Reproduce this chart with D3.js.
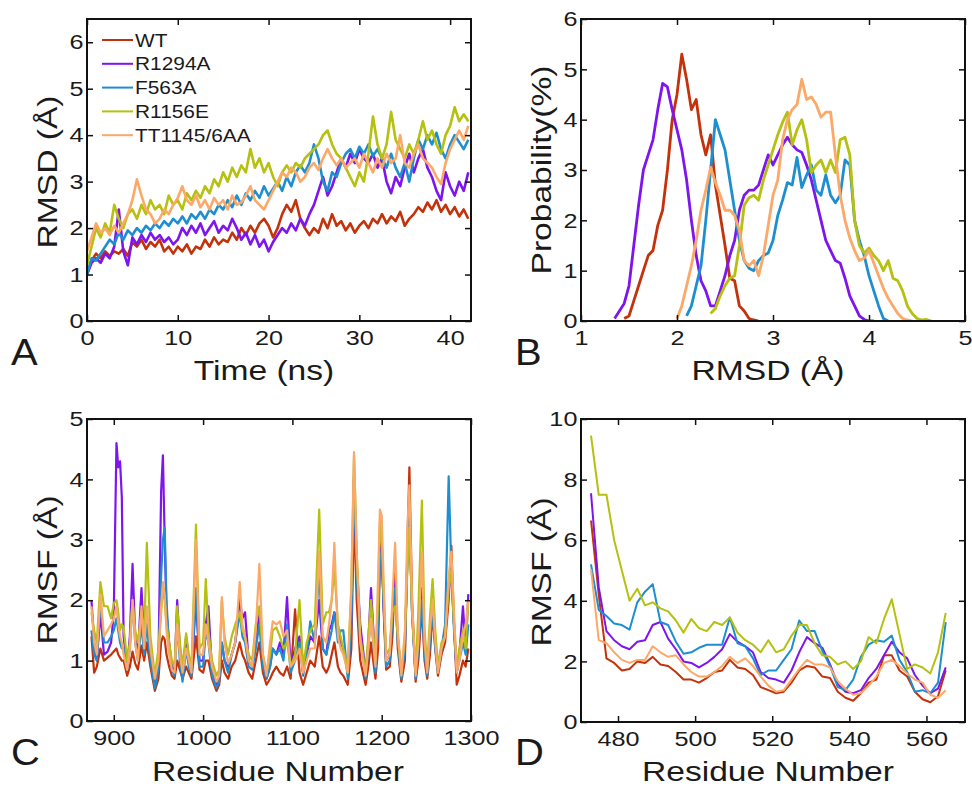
<!DOCTYPE html>
<html>
<head>
<meta charset="utf-8">
<script src="https://cdn.jsdelivr.net/npm/d3@7"></script>
<style>
  body { margin: 0; background: #fff; }
  svg text { font-family: "Liberation Sans", Arial, sans-serif; fill: #1a1a1a; }
</style>
</head>
<body>
<div id="chart"></div>
<script>
// Four-panel MD summary: RMSD vs time, RMSD histogram, RMSF (two domains)

const seriesNames = ['WT', 'R1294A', 'F563A', 'R1156E', 'TT1145/6AA'];
const seriesColors = ['#c3320a', '#7e15ee', '#1d8fd1', '#b5c00f', '#fba868'];

// --- Panel A: RMSD (Å) vs time, one sample every 0.5 ns from 0 to 42 ns
const timeStepA = 0.5;
const rmsdA_WT = [1.0,1.3,1.45,1.35,1.5,1.4,1.5,1.45,1.55,1.4,1.7,1.6,1.75,1.55,1.7,1.6,1.75,1.5,1.6,1.45,1.6,1.5,1.65,1.45,1.6,1.55,1.75,1.6,1.8,1.65,1.75,1.7,1.9,1.75,2.0,1.85,2.05,1.9,2.1,2.2,2.05,1.8,2.0,2.3,2.5,2.35,2.6,2.2,2.0,1.85,2.0,1.9,2.2,2.0,2.3,2.05,2.15,1.95,2.1,1.9,2.05,2.15,2.0,2.2,2.1,2.3,2.1,2.25,2.15,2.35,2.05,2.2,2.3,2.45,2.35,2.55,2.4,2.6,2.35,2.5,2.3,2.45,2.25,2.4,2.2];
const rmsdA_R1294A = [1.0,1.25,1.35,1.25,1.45,1.35,1.6,2.4,1.5,1.2,1.8,1.65,1.85,1.7,1.9,1.75,1.85,1.7,1.8,1.65,1.75,2.0,1.85,2.05,1.9,2.1,1.85,2.0,2.15,1.9,2.05,1.95,2.2,2.0,1.75,1.9,1.65,1.85,1.6,1.75,1.5,1.7,1.85,2.0,1.9,2.1,1.95,2.2,2.05,2.3,2.5,2.8,3.1,2.7,2.9,3.2,3.5,3.3,3.6,3.4,3.7,3.5,3.4,3.6,3.3,3.5,3.0,2.75,3.1,2.9,3.3,3.6,3.2,3.5,3.7,3.3,3.1,2.8,2.6,3.2,2.9,2.7,3.0,2.8,3.2];
const rmsdA_F563A = [1.0,1.35,1.3,1.45,1.6,1.75,1.65,1.9,1.75,1.95,1.85,2.0,1.9,2.05,1.95,2.1,2.0,2.15,2.05,2.2,2.1,2.25,2.1,2.3,2.2,2.35,2.2,2.4,2.3,2.5,2.4,2.6,2.45,2.7,2.5,2.75,2.6,2.8,2.65,2.9,2.7,2.85,3.0,2.8,3.1,2.9,3.2,3.35,3.2,3.4,3.8,3.5,3.0,2.8,3.2,3.1,3.4,3.6,3.7,3.5,3.75,3.6,3.8,3.55,3.7,3.5,3.3,3.6,3.3,3.1,3.4,3.0,3.5,3.9,3.7,4.0,3.8,4.05,3.7,3.5,3.8,4.0,3.85,3.7,3.9];
const rmsdA_R1156E = [1.2,1.6,2.0,1.8,2.1,1.9,2.5,2.2,2.0,2.3,2.4,2.2,2.5,2.3,2.6,2.4,2.5,2.3,2.7,2.5,2.6,2.4,2.75,2.6,2.8,2.65,2.9,2.75,3.05,2.9,3.2,3.0,3.3,3.1,3.35,3.2,3.7,3.3,3.5,3.2,3.4,3.1,2.9,3.2,3.35,3.2,3.4,3.3,3.5,3.6,3.7,3.8,4.0,4.1,3.8,3.6,3.5,3.3,3.1,2.9,3.2,3.0,3.6,4.4,3.8,3.5,3.8,4.5,3.9,3.7,3.5,3.8,3.6,3.9,4.3,3.9,4.1,3.8,3.6,4.0,4.2,4.6,4.3,4.45,4.3];
const rmsdA_TT = [1.5,1.8,2.1,1.9,2.0,1.85,2.05,1.9,2.1,2.3,2.6,3.05,2.7,2.4,2.3,2.1,2.2,2.4,2.3,2.5,2.65,2.9,2.6,2.5,2.7,2.45,2.6,2.4,2.65,2.5,2.6,2.4,2.7,2.5,2.55,2.7,2.9,2.6,2.5,2.4,2.6,2.8,3.0,3.2,3.1,3.3,3.2,3.0,3.1,3.3,3.4,3.25,3.5,3.7,3.5,3.35,3.5,3.3,3.4,3.5,3.3,3.6,3.4,3.2,3.5,3.3,3.6,3.4,3.5,4.0,3.4,3.3,3.6,3.8,3.5,3.4,3.3,3.1,2.95,3.4,3.7,3.9,4.1,3.9,4.2];

// --- Panel B: RMSD probability (%), bins of 0.05 Å starting at each series' first bin
const binStepB = 0.05;
const binStartB = [1.45, 1.35, 2.1, 2.35, 2.0];
const probB_WT = [0.05,0.1,0.4,0.7,1.0,1.3,1.4,1.9,2.2,3.0,4.0,4.5,5.3,4.8,4.2,4.4,3.7,3.3,3.7,2.7,2.1,1.5,0.85,0.8,0.3,0.2,0.05,0.02,0];
const probB_R1294A = [0.05,0.2,0.35,0.7,1.5,2.3,3.0,3.3,3.6,4.2,4.72,4.65,4.2,3.8,3.4,2.8,2.0,1.3,0.8,0.6,0.3,0.3,0.6,0.9,1.3,1.6,2.2,2.5,2.6,2.6,2.7,3.0,3.3,3.1,3.3,3.5,3.65,3.5,3.4,3.35,3.1,2.8,2.4,2.0,1.6,1.4,1.2,1.15,0.85,0.5,0.3,0.1,0.03,0,0];
const probB_F563A = [0.1,0.3,0.7,1.1,2.0,3.0,4.0,3.7,3.4,2.8,2.2,1.6,1.2,1.05,1.0,1.2,1.3,1.35,1.6,2.1,2.4,2.75,2.7,3.25,2.65,2.9,3.1,2.6,2.5,2.9,2.5,2.35,2.5,3.2,3.1,2.0,1.6,1.3,0.9,0.6,0.3,0.05,0];
const probB_R1156E = [0.15,0.25,0.5,0.7,0.85,0.9,1.5,2.3,2.45,2.5,2.4,2.8,3.1,3.4,3.7,3.95,4.15,3.5,3.8,4.0,3.6,2.95,3.1,3.2,2.95,3.2,2.95,3.6,3.65,3.3,2.0,1.5,1.35,1.45,1.3,1.2,1.0,1.2,0.85,0.8,0.6,0.3,0.15,0.05,0.02,0.03,0];
const probB_TT = [0.05,0.3,0.7,1.1,1.6,2.2,2.6,3.05,2.75,2.5,2.2,2.2,2.1,1.8,1.2,1.1,1.2,0.9,1.3,1.9,2.5,2.8,3.6,4.0,4.2,4.3,4.8,4.4,4.45,4.3,4.05,4.15,4.15,3.3,2.5,2.0,1.65,1.4,1.2,1.25,1.4,1.15,0.9,0.65,0.45,0.3,0.15,0.05,0.02,0];

// --- Panel C: RMSF (Å) per residue, 875-1297
const residuesC = [875,878,881,885,889,893,897,900,903,905,907,909,911,915,918,921,924,927,931,934,937,941,946,950,953,955,957,959,962,965,968,971,974,977,981,984,987,992,996,1000,1003,1006,1010,1015,1018,1021,1024,1028,1032,1036,1041,1044,1047,1051,1055,1059,1063,1067,1071,1075,1078,1082,1086,1090,1094,1098,1103,1108,1112,1116,1120,1125,1130,1134,1138,1141,1144,1147,1151,1154,1157,1162,1166,1169,1172,1176,1179,1182,1185,1188,1193,1196,1198,1200,1202,1205,1209,1212,1215,1218,1222,1226,1229,1231,1234,1238,1241,1245,1248,1251,1254,1257,1260,1263,1267,1271,1275,1278,1281,1284,1287,1291,1294,1297];
const rmsfC_WT = [1.4,0.8,0.9,1.2,1.0,1.05,1.1,1.15,1.2,1.1,1.05,1.0,1.0,0.75,0.9,1.15,0.95,0.85,1.25,1.0,1.3,0.9,0.5,0.7,1.3,1.4,1.35,1.1,0.9,0.75,0.7,1.0,0.85,0.7,0.9,0.8,0.7,1.4,0.85,0.8,1.0,1.0,0.7,0.5,0.6,1.0,0.8,0.7,0.9,1.0,1.3,1.1,1.0,0.8,0.7,1.0,1.3,0.8,0.6,0.7,0.8,0.9,0.8,0.75,0.9,0.7,1.85,0.8,0.6,0.8,1.0,0.9,1.4,0.9,0.8,0.9,1.1,1.3,0.9,0.8,0.75,0.6,1.2,3.5,2.0,1.0,0.8,0.6,0.9,1.3,0.7,1.2,2.8,3.0,1.9,0.85,0.9,1.4,2.5,1.2,0.65,1.0,3.0,4.2,2.0,0.65,1.0,1.9,1.0,0.7,1.1,1.8,1.2,0.75,1.1,1.3,2.0,2.9,1.6,0.6,0.75,1.0,0.9,1.2];
const rmsfC_R1294A = [2.0,1.3,1.0,1.8,1.1,1.15,1.3,1.8,4.6,4.2,4.3,3.7,1.4,0.9,1.4,2.6,1.4,1.1,2.2,1.3,1.6,1.1,0.6,1.0,3.8,4.4,3.0,1.8,1.3,0.9,0.8,2.0,1.2,0.8,1.4,1.0,0.8,2.0,1.0,1.0,1.6,1.9,0.8,0.6,0.7,1.3,1.0,0.9,1.1,1.3,2.0,1.7,1.8,1.0,0.9,1.3,1.8,1.0,0.7,0.9,1.2,1.1,1.3,1.1,2.05,0.9,1.2,1.4,0.8,1.1,1.4,1.3,2.0,1.2,1.1,1.5,1.6,1.8,1.5,1.3,1.2,0.8,1.6,4.0,2.6,1.6,1.2,0.8,1.3,2.2,0.9,1.6,2.9,2.8,2.0,1.0,1.1,1.8,2.3,1.4,0.75,1.3,2.8,3.4,1.8,0.75,1.3,2.2,1.2,0.8,1.4,1.9,1.3,0.85,1.2,1.5,2.3,2.4,1.6,0.8,1.1,1.9,1.2,2.1];
const rmsfC_F563A = [1.5,1.1,1.0,2.0,1.3,1.3,1.4,1.5,1.7,1.5,1.3,1.2,1.2,0.85,1.2,2.0,1.3,1.0,1.6,1.1,1.6,1.0,0.55,0.85,2.4,3.0,3.2,2.0,1.2,0.85,0.75,1.6,1.0,0.65,1.2,0.9,0.75,2.2,0.9,0.9,1.5,1.3,0.75,0.55,0.65,1.3,1.0,0.8,1.1,1.3,1.8,1.4,1.3,0.9,0.85,1.2,1.6,0.9,0.7,0.9,1.2,1.1,1.2,1.0,1.6,0.8,1.0,1.3,0.75,1.1,1.65,1.3,2.5,1.2,1.1,1.3,1.5,1.8,1.3,1.5,1.5,0.7,1.6,4.1,2.4,1.3,1.1,0.7,1.2,1.8,0.8,1.6,2.7,2.8,2.0,0.9,1.0,1.7,2.2,1.3,0.7,1.2,2.8,3.4,1.8,0.7,1.2,2.0,1.1,0.75,1.3,1.8,1.2,0.8,1.2,1.6,4.05,2.5,1.5,0.8,1.0,1.3,1.1,1.6];
const rmsfC_R1156E = [1.8,1.5,1.3,2.3,1.9,1.9,1.7,1.95,2.0,1.8,1.5,1.6,1.55,1.0,1.3,2.0,1.5,1.3,1.8,1.4,2.95,1.4,0.75,1.2,1.8,2.2,2.0,1.6,1.3,1.0,0.9,1.9,1.3,0.9,1.45,1.1,0.9,3.25,1.2,1.3,2.35,1.5,1.0,0.75,0.85,2.0,1.4,1.1,1.4,1.6,1.8,1.5,1.4,1.1,1.0,1.6,1.9,1.1,0.8,1.1,1.5,1.55,1.4,1.2,1.3,0.9,1.1,2.0,0.9,1.3,1.5,1.6,3.5,1.6,1.8,1.8,2.0,2.5,1.6,1.4,1.2,0.9,2.2,4.4,2.8,1.4,1.1,0.8,1.4,2.0,1.0,2.0,3.3,3.0,2.2,1.1,1.2,1.8,1.9,1.4,0.8,1.4,2.6,3.2,1.8,0.8,1.8,3.65,1.5,0.9,1.7,2.35,1.5,0.9,1.3,1.4,2.2,2.5,1.6,0.9,1.2,1.5,1.2,2.0];
const rmsfC_TT = [1.9,1.3,1.1,2.1,1.4,1.5,1.6,1.7,1.9,1.6,1.4,1.3,1.1,0.85,1.2,2.0,1.3,1.0,1.9,1.2,1.9,1.2,0.7,1.0,1.9,2.3,2.1,1.5,1.1,0.85,0.8,1.6,1.1,0.8,1.2,1.0,0.8,3.0,1.1,1.1,1.6,1.3,0.9,0.65,0.75,2.05,1.3,0.95,1.1,1.3,2.3,1.6,1.4,1.0,0.9,1.5,2.6,1.1,0.75,1.3,1.65,1.6,1.65,1.4,1.5,0.9,1.0,1.2,0.8,1.0,1.2,1.2,2.8,1.4,1.3,1.6,2.0,2.95,1.4,1.2,1.1,0.8,2.2,4.45,2.8,1.3,1.0,0.75,1.2,1.7,0.9,2.4,3.5,3.4,2.4,1.0,1.1,2.0,2.95,1.5,0.75,1.5,3.3,3.9,2.0,0.75,1.3,2.8,1.3,0.8,1.5,2.0,1.3,0.8,1.2,1.4,2.4,2.8,1.8,0.8,1.0,1.4,1.6,2.0];

// --- Panel D: RMSF (Å) per residue, every second residue 473-565
const residuesD = d3.range(473, 566, 2);
const rmsfD_WT = [6.65,4.2,2.1,1.95,1.7,1.75,2.0,1.95,2.15,1.9,1.85,1.65,1.4,1.4,1.3,1.45,1.65,1.7,2.05,1.8,1.75,1.55,1.15,1.05,0.95,1.0,1.3,1.7,1.85,1.8,1.5,1.45,1.0,0.8,0.7,0.95,1.3,1.4,2.2,2.2,1.7,1.5,1.0,0.75,0.65,0.85,1.7];
const rmsfD_R1294A = [7.55,4.45,3.0,2.7,2.5,2.4,2.65,2.7,3.2,3.3,2.75,2.4,2.0,1.95,1.8,1.95,2.15,2.4,2.9,2.65,2.5,2.3,1.65,1.45,1.4,1.3,1.7,2.3,2.8,2.6,2.45,1.9,1.25,1.0,0.95,1.05,1.45,1.75,2.2,2.65,2.3,2.1,1.55,1.2,0.95,1.1,1.8];
const rmsfD_F563A = [5.2,3.7,3.5,3.25,3.2,3.05,3.95,4.3,4.55,3.3,3.2,2.65,2.25,2.3,2.45,2.55,2.55,2.55,3.45,2.6,2.5,2.1,1.55,1.7,1.7,2.05,2.4,3.35,3.0,3.0,2.35,1.85,1.15,1.05,1.4,2.15,2.55,2.7,2.65,2.85,2.05,1.65,1.0,1.05,0.95,1.3,3.3];
const rmsfD_R1156E = [9.45,7.5,7.5,6.0,5.0,4.0,4.4,3.85,3.95,3.75,3.65,3.35,2.95,3.4,3.1,3.0,3.3,3.2,3.45,2.95,2.7,2.55,2.3,2.7,2.3,2.4,2.85,3.2,3.2,2.6,2.2,2.15,1.9,2.0,1.75,2.0,2.8,2.6,3.4,4.05,2.9,1.75,1.9,1.8,1.6,2.3,3.6];
const rmsfD_TT = [5.05,2.7,2.6,2.3,2.05,1.95,2.05,2.05,2.5,2.3,2.15,2.2,1.9,1.65,1.5,1.5,1.65,1.85,2.15,1.95,2.1,1.85,1.5,1.2,1.0,1.05,1.4,1.75,2.05,1.9,1.9,1.8,1.35,1.1,0.9,0.95,1.2,1.5,1.95,2.05,1.85,1.6,1.4,1.3,0.9,0.8,1.05];

const W = 972, H = 789;
// the original lettering is wide: stretch text along its reading direction
const STRETCH = 1.2;

const svg = d3.select('#chart').append('svg')
  .attr('width', W).attr('height', H)
  .attr('viewBox', `0 0 ${W} ${H}`);
svg.append('rect').attr('width', W).attr('height', H).attr('fill', '#fff');

let clipId = 0;

function drawPanel(p) {
  const x = d3.scaleLinear().domain(p.xDomain).range([p.left, p.right]);
  const y = d3.scaleLinear().domain(p.yDomain).range([p.bottom, p.top]);
  const g = svg.append('g');

  const id = 'clip' + (clipId++);
  g.append('clipPath').attr('id', id).append('rect')
    .attr('x', p.left).attr('y', p.top)
    .attr('width', p.right - p.left).attr('height', p.bottom - p.top);

  const line = d3.line().x(d => x(d[0])).y(d => y(d[1]));
  const lines = g.append('g').attr('clip-path', `url(#${id})`);
  p.series.forEach((s, i) => {
    const pts = s.xs.map((xv, j) => [xv, s.ys[j]]).filter(d => d[1] != null);
    lines.append('path')
      .attr('d', line(pts))
      .attr('fill', 'none')
      .attr('stroke', seriesColors[i])
      .attr('stroke-width', p.lineWidth)
      .attr('stroke-linejoin', 'round');
  });

  // inward ticks on all four sides, matlab style
  const tk = 6;
  const styleAxis = sel => {
    sel.select('.domain').remove();
    sel.selectAll('.tick line').attr('stroke', '#111').attr('stroke-width', 1.5);
    sel.selectAll('text').attr('font-size', 21).attr('fill', '#1a1a1a')
      .attr('font-family', '"Liberation Sans", Arial, sans-serif')
      .attr('transform', `scale(${STRETCH},1)`);
  };
  g.append('g').attr('transform', `translate(0,${p.bottom})`)
    .call(d3.axisBottom(x).tickValues(p.xTicks).tickSize(-tk).tickPadding(9).tickFormat(d3.format('d')))
    .call(styleAxis);
  g.append('g').attr('transform', `translate(0,${p.top})`)
    .call(d3.axisTop(x).tickValues(p.xTicks).tickSize(-tk).tickFormat(''))
    .call(styleAxis);
  g.append('g').attr('transform', `translate(${p.left},0)`)
    .call(d3.axisLeft(y).tickValues(p.yTicks).tickSize(-tk).tickPadding(3).tickFormat(d3.format('d')))
    .call(styleAxis);
  g.append('g').attr('transform', `translate(${p.right},0)`)
    .call(d3.axisRight(y).tickValues(p.yTicks).tickSize(-tk).tickFormat(''))
    .call(styleAxis);

  g.append('rect')
    .attr('x', p.left).attr('y', p.top)
    .attr('width', p.right - p.left).attr('height', p.bottom - p.top)
    .attr('fill', 'none').attr('stroke', '#111').attr('stroke-width', 2);

  // axis titles and panel letter
  g.append('text')
    .attr('transform', `translate(${p.xLabelPos[0]},${p.xLabelPos[1]}) scale(${STRETCH},1)`)
    .attr('text-anchor', 'middle').attr('font-size', 28)
    .text(p.xLabel);
  g.append('text')
    .attr('transform', `translate(${p.yLabelPos[0]},${p.yLabelPos[1]}) rotate(-90) scale(${STRETCH},1)`)
    .attr('text-anchor', 'middle').attr('font-size', 28)
    .text(p.yLabel);
  g.append('text')
    .attr('transform', `translate(${p.letterPos[0]},${p.letterPos[1]}) scale(1.08,1)`)
    .attr('font-size', 37)
    .text(p.letter);
  return { x, y, g };
}

const timeA = rmsdA_WT.map((d, i) => i * timeStepA);
const panelA = drawPanel({
  left: 87, right: 471, top: 19, bottom: 321,
  xDomain: [0, 42.3], yDomain: [0, 6.5],
  xTicks: [0, 10, 20, 30, 40], yTicks: [0, 1, 2, 3, 4, 5, 6],
  lineWidth: 2.6,
  series: [rmsdA_WT, rmsdA_R1294A, rmsdA_F563A, rmsdA_R1156E, rmsdA_TT].map(ys => ({ xs: timeA, ys })),
  xLabel: 'Time (ns)', xLabelPos: [264, 380],
  yLabel: 'RMSD (Å)', yLabelPos: [57, 172],
  letter: 'A', letterPos: [11, 365]
});

// legend (panel A)
const legend = panelA.g.append('g');
seriesNames.forEach((name, i) => {
  const ly = 40 + i * 23.8;
  legend.append('line')
    .attr('x1', 102).attr('x2', 133).attr('y1', ly).attr('y2', ly)
    .attr('stroke', seriesColors[i]).attr('stroke-width', 2);
  legend.append('text')
    .attr('transform', `translate(135,${ly}) scale(1.13,1)`)
    .attr('dy', '0.36em')
    .attr('font-size', 18.5)
    .text(name);
});

const probB = [probB_WT, probB_R1294A, probB_F563A, probB_R1156E, probB_TT];
drawPanel({
  left: 581, right: 965, top: 19, bottom: 321,
  xDomain: [1, 5], yDomain: [0, 6],
  xTicks: [1, 2, 3, 4, 5], yTicks: [0, 1, 2, 3, 4, 5, 6],
  lineWidth: 2.8,
  series: probB.map((ys, i) => ({ xs: ys.map((d, j) => binStartB[i] + j * binStepB), ys })),
  xLabel: 'RMSD (Å)', xLabelPos: [768, 380],
  yLabel: 'Probability(%)', yLabelPos: [551, 170],
  letter: 'B', letterPos: [515, 365]
});

drawPanel({
  left: 87, right: 471, top: 419, bottom: 721,
  xDomain: [870, 1300], yDomain: [0, 5],
  xTicks: [900, 1000, 1100, 1200, 1300], yTicks: [0, 1, 2, 3, 4, 5],
  lineWidth: 2.2,
  series: [rmsfC_WT, rmsfC_R1294A, rmsfC_F563A, rmsfC_R1156E, rmsfC_TT].map(ys => ({ xs: residuesC, ys })),
  xLabel: 'Residue Number', xLabelPos: [278, 781],
  yLabel: 'RMSF (Å)', yLabelPos: [57, 570],
  letter: 'C', letterPos: [11, 765]
});

drawPanel({
  left: 581, right: 965, top: 419, bottom: 722,
  xDomain: [470.4, 570], yDomain: [0, 10],
  xTicks: [480, 500, 520, 540, 560], yTicks: [0, 2, 4, 6, 8, 10],
  lineWidth: 2,
  series: [rmsfD_WT, rmsfD_R1294A, rmsfD_F563A, rmsfD_R1156E, rmsfD_TT].map(ys => ({ xs: residuesD, ys })),
  xLabel: 'Residue Number', xLabelPos: [768, 781],
  yLabel: 'RMSF (Å)', yLabelPos: [551, 572],
  letter: 'D', letterPos: [515, 765]
});
</script>
</body>
</html>
